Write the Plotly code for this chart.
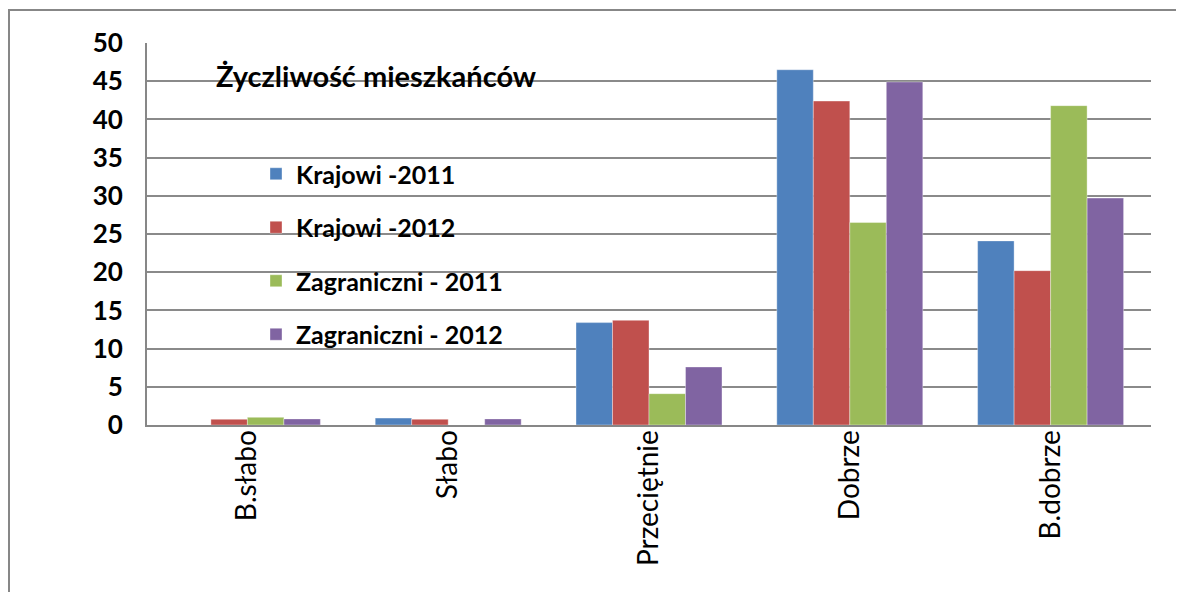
import plotly.graph_objects as go

categories = ["B.słabo", "Słabo", "Przeciętnie", "Dobrze", "B.dobrze"]
series_names = ["Krajowi -2011", "Krajowi -2012", "Zagraniczni - 2011", "Zagraniczni - 2012"]
krajowi_2011 = [0, 0.9, 13.4, 46.5, 24.1]
krajowi_2012 = [0.75, 0.75, 13.7, 42.4, 20.2]
zagraniczni_2011 = [1.0, 0, 4.1, 26.5, 41.8]
zagraniczni_2012 = [0.8, 0.8, 7.6, 44.9, 29.7]
colors = ["#4F81BD", "#C0504D", "#9BBB59", "#8064A2"]
y_ticks = [0, 5, 10, 15, 20, 25, 30, 35, 40, 45, 50]

FONT = "Lato"
fig = go.Figure()
for i, (name, vals) in enumerate(zip(series_names,
                                     [krajowi_2011, krajowi_2012, zagraniczni_2011, zagraniczni_2012])):
    fig.add_trace(go.Bar(x=categories, y=vals, name=name, legendgroup=f"g{i}",
                         marker=dict(color=colors[i], line=dict(width=0.6, color="rgba(255,255,255,0.6)"))))

W, H = 1184, 592
L, R, T, B = 139, 41, 35, 175
pw, ph = W - L - R, H - T - B

def px_x(p):
    return (p - L) / pw

def px_y(p):
    return (H - B - p) / ph

fig.update_layout(
    width=W, height=H,
    margin=dict(l=L, r=R, t=T, b=B),
    paper_bgcolor="white", plot_bgcolor="white",
    barmode="group", bargap=0.273, bargroupgap=0,
    font=dict(family=FONT, color="black"),
    showlegend=True,
    legend=dict(x=px_x(248), y=px_y(143), xanchor="left", yanchor="top",
                font=dict(family=FONT, size=25, color="black", weight="bold"),
                tracegroupgap=18, bgcolor="rgba(0,0,0,0)", itemwidth=30,
                traceorder="grouped"),
    xaxis=dict(showgrid=False, showline=True, linecolor="#878787", linewidth=2,
               tickangle=-90, tickfont=dict(family=FONT, size=28, color="black"),
               ticks="", ticklabelstandoff=-8),
    yaxis=dict(range=[0, 50], tickvals=y_ticks, showgrid=True, gridcolor="#8a8a8a", gridwidth=2,
               showline=True, linecolor="#878787", linewidth=2, zeroline=False,
               tickfont=dict(family=FONT, size=26, color="black", weight="bold"),
               ticks="", ticklabelstandoff=17),
    annotations=[dict(text="<b>Życzliwość mieszkańców</b>", xref="paper", yref="paper",
                      x=px_x(368), y=px_y(67), xanchor="center", yanchor="middle",
                      showarrow=False, font=dict(family=FONT, size=29, color="black"))],
    shapes=[dict(type="rect", xref="paper", yref="paper",
                 x0=px_x(1), x1=px_x(1195), y0=px_y(605), y1=px_y(2),
                 line=dict(color="#878787", width=2), fillcolor="rgba(0,0,0,0)", layer="below")],
)

fig.write_html("out.html")
